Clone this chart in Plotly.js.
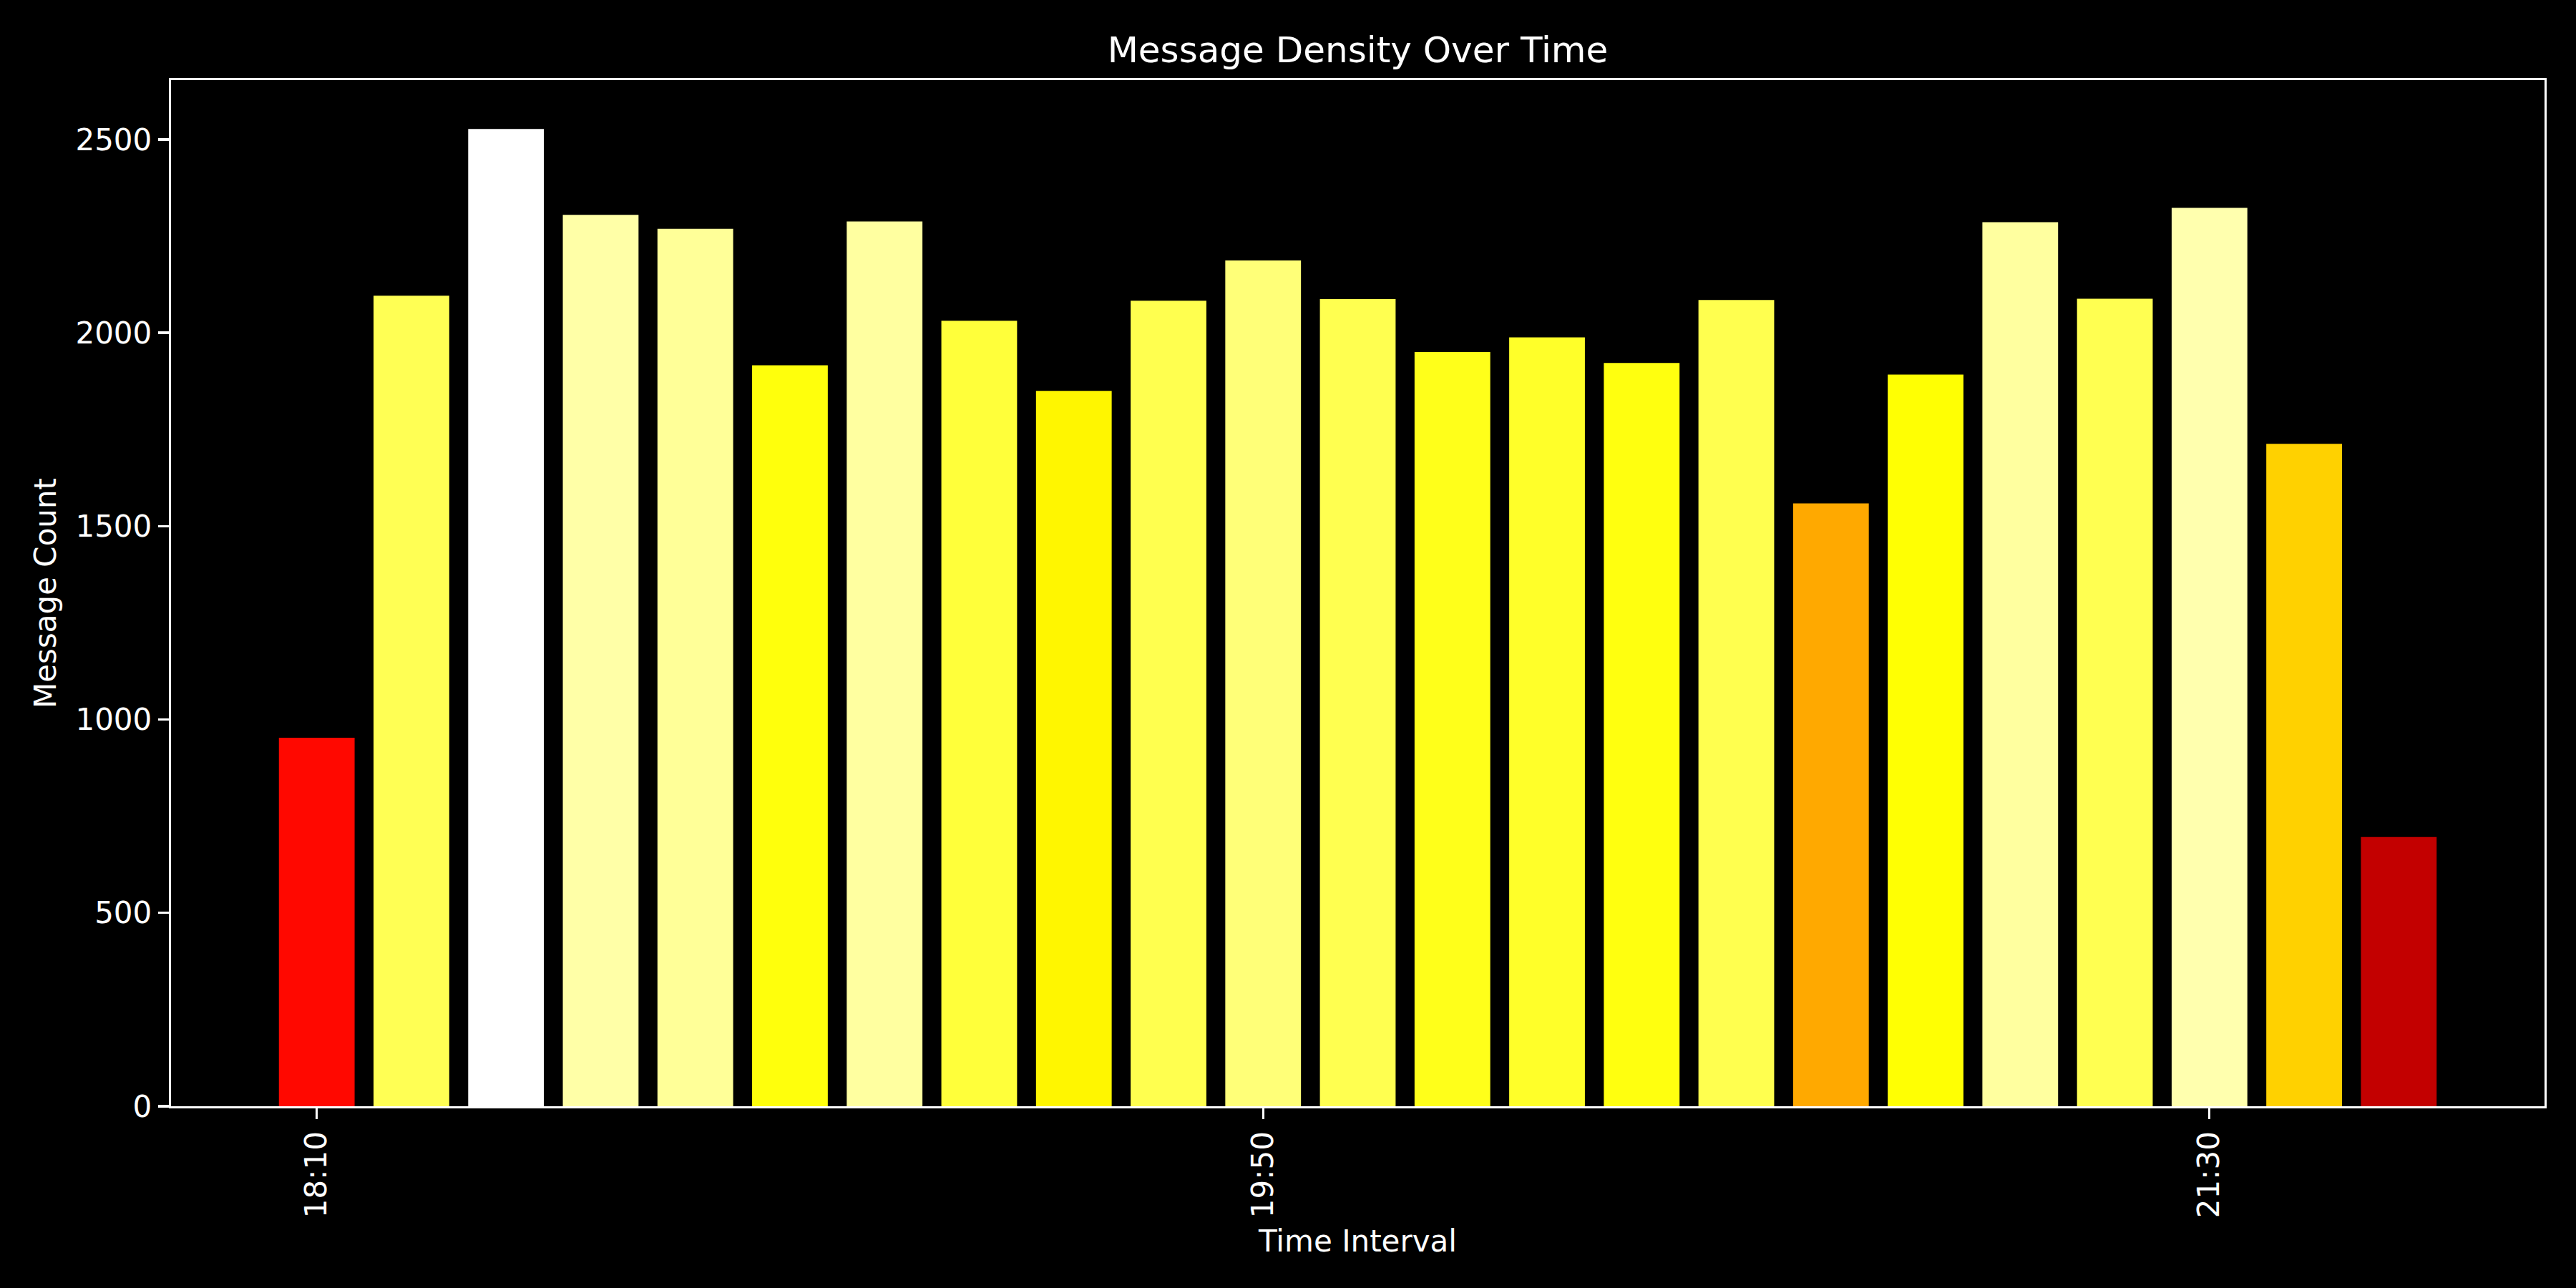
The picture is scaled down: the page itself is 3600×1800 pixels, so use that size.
<!DOCTYPE html>
<html>
<head>
<meta charset="utf-8">
<script src="https://cdn.plot.ly/plotly-3.0.1.min.js"></script>
<style>html,body{margin:0;padding:0;background:#000;}</style>
</head>
<body>
<div id="chart" style="width:3600px;height:1800px;"></div>
<script>
// Data
const timeLabels = ["18:10","18:20","18:30","18:40","18:50","19:00","19:10","19:20","19:30","19:40",
                    "19:50","20:00","20:10","20:20","20:30","20:40","20:50","21:00","21:10","21:20",
                    "21:30","21:40","21:50"];
const messageCounts = [953, 2096, 2527, 2305, 2269, 1916, 2288, 2031, 1850, 2083,
                       2187, 2087, 1950, 1988, 1922, 2085, 1559, 1892, 2286, 2088,
                       2323, 1713, 696];
const tickLabels = ["18:10", "19:50", "21:30"];

const maxCount = Math.max(...messageCounts);
const n = timeLabels.length;
const barWidth = 0.8;
const span = (n - 1) + barWidth;
const xMin = -barWidth / 2 - 0.05 * span;
const xMax = (n - 1) + barWidth / 2 + 0.05 * span;

// matplotlib "hot" colormap
const hotScale = [
  [0, 'rgb(11,0,0)'],
  [0.365079, 'rgb(255,0,0)'],
  [0.746032, 'rgb(255,255,0)'],
  [1, 'rgb(255,255,255)']
];

const font = "DejaVu Sans, sans-serif";
const white = "#ffffff";

const trace = {
  type: 'bar',
  x: timeLabels,
  y: messageCounts,
  width: barWidth,
  marker: {
    color: messageCounts,
    colorscale: hotScale,
    cmin: 0,
    cmax: maxCount,
    showscale: false,
    line: {width: 0}
  },
  hoverinfo: 'x+y'
};

const layout = {
  width: 3600,
  height: 1800,
  paper_bgcolor: '#000000',
  plot_bgcolor: '#000000',
  margin: {l: 239, r: 44, t: 112, b: 254, pad: 0},
  showlegend: false,
  font: {family: font, color: white, size: 42},
  title: {
    text: 'Message Density Over Time',
    font: {family: font, size: 50, color: white},
    x: 0.5, xref: 'paper', xanchor: 'center',
    y: 1, yref: 'paper', yanchor: 'bottom',
    pad: {b: 25}
  },
  xaxis: {
    type: 'category',
    range: [xMin, xMax],
    tickmode: 'array',
    tickvals: tickLabels,
    ticktext: tickLabels,
    tickangle: -90,
    ticks: 'outside',
    ticklen: 15,
    tickwidth: 3.3,
    tickcolor: white,
    tickfont: {family: font, size: 42, color: white},
    showgrid: false,
    zeroline: false,
    showline: true,
    linecolor: white,
    linewidth: 3.3,
    mirror: true,
    automargin: false,
    title: {text: 'Time Interval', font: {family: font, size: 42, color: white}, standoff: 19}
  },
  yaxis: {
    range: [0, maxCount * 1.05],
    tickmode: 'array',
    tickvals: [0, 500, 1000, 1500, 2000, 2500],
    ticks: 'outside',
    ticklen: 15,
    tickwidth: 3.3,
    tickcolor: white,
    tickfont: {family: font, size: 42, color: white},
    showgrid: false,
    zeroline: false,
    showline: true,
    linecolor: white,
    linewidth: 3.3,
    mirror: true,
    automargin: false,
    title: {text: 'Message Count', font: {family: font, size: 42, color: white}, standoff: 14}
  },
  bargap: 0.2
};

Plotly.newPlot('chart', [trace], layout, {displayModeBar: false, staticPlot: true});
</script>
</body>
</html>
